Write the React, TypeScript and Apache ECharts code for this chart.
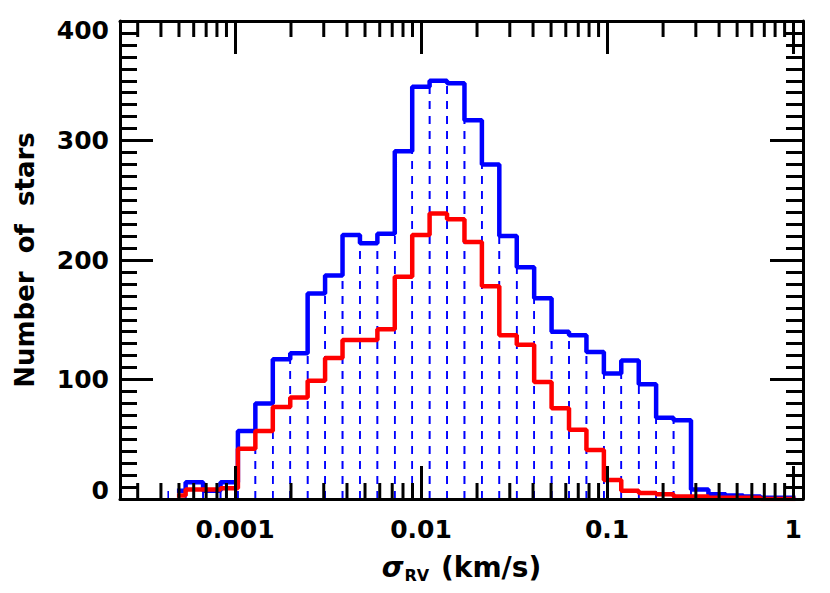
import React, { useEffect, useRef } from "react";
import * as echarts from "echarts";

// Histogram bin edges (sigma_RV, km/s), logarithmic bins
const binEdges = [
  0.0004377, 0.000543, 0.0006739, 0.0008362, 0.001037, 0.001287, 0.001597,
  0.001982, 0.002458, 0.00305, 0.003785, 0.004696, 0.005827, 0.007227,
  0.008967, 0.01112, 0.0138, 0.01712, 0.02124, 0.02635, 0.0327, 0.04056,
  0.05032, 0.06243, 0.07746, 0.09612, 0.1192, 0.148, 0.1835, 0.2277, 0.2825,
  0.3505, 0.4349, 0.5395, 0.6694, 0.8306, 1.03,
];

// Number of stars per bin: full sample (blue) and subsample (red)
const allStars = [
  7, 14, 7, 14, 57, 80, 117, 122, 172, 187, 221, 214, 222, 291, 345, 350, 348,
  317, 280, 220, 194, 168, 140, 137, 123, 105, 116, 96, 68, 66, 8, 4, 3, 2, 1, 1,
];
const subSample = [
  3, 8, 8, 9, 42, 57, 77, 85, 99, 118, 133, 133, 142, 186, 221, 239, 234, 215,
  178, 137, 129, 98, 76, 58, 41, 16, 7, 5, 4, 2, 2, 1, 1, 1, 0, 0,
];

// Axis definitions
const xMin = 0.000241;
const xMax = 1.13;
const yMin = 0;
const yMax = 400;
const yInterval = 100;
const xMinorTicks = [
  0.0003, 0.0004, 0.0005, 0.0006, 0.0007, 0.0008, 0.0009,
  0.002, 0.003, 0.004, 0.005, 0.006, 0.007, 0.008, 0.009,
  0.02, 0.03, 0.04, 0.05, 0.06, 0.07, 0.08, 0.09,
  0.2, 0.3, 0.4, 0.5, 0.6, 0.7, 0.8, 0.9,
];

const FONT = "DejaVu Sans";

function stepPoints(values: number[]): number[][] {
  const pts: number[][] = [];
  pts.push([Math.sqrt(binEdges[0] * binEdges[1]), values[0]]);
  for (let i = 0; i < values.length; i++) {
    if (i > 0) pts.push([binEdges[i], values[i]]);
    pts.push([binEdges[i + 1], values[i]]);
  }
  return pts;
}

export default function App() {
  const ref = useRef<HTMLDivElement>(null);

  useEffect(() => {
    if (!ref.current) return;
    const chart = echarts.init(ref.current, undefined, { renderer: "svg" });

    const axisLineStyle = { color: "#000", width: 3 };
    const tickStyle = { color: "#000", width: 3 };

    const xBase = {
      type: "log" as const,
      logBase: 10,
      min: xMin,
      max: xMax,
      z: 10,
      axisLine: { show: true, onZero: false, lineStyle: axisLineStyle },
      axisTick: { show: true, inside: true, length: 33, lineStyle: tickStyle },
      splitLine: { show: false },
      minorTick: { show: false },
      minorSplitLine: { show: false },
    };

    const yBase = {
      type: "value" as const,
      min: yMin,
      max: yMax,
      interval: yInterval,
      z: 10,
      axisLine: { show: true, onZero: false, lineStyle: axisLineStyle },
      axisTick: { show: true, inside: true, length: 33, lineStyle: tickStyle },
      minorTick: { show: true, splitNumber: 10, length: 17, lineStyle: tickStyle },
      splitLine: { show: false },
      minorSplitLine: { show: false },
    };

    chart.setOption({
      animation: false,
      backgroundColor: "#fff",
      grid: {
        left: 120,
        right: 27,
        top: 21,
        bottom: 94,
        containLabel: false,
        outerBoundsMode: "none",
      },
      xAxis: [
        {
          ...xBase,
          position: "bottom",
          axisLabel: {
            show: true,
            showMinLabel: false,
            showMaxLabel: false,
            margin: 18,
            fontSize: 25,
            fontWeight: "bold",
            fontFamily: FONT,
            color: "#000",
            formatter: (v: number) => String(Number(v.toPrecision(3))),
          },
          name: "{s|σ}{sub|RV} (km/s)",
          nameLocation: "middle",
          nameGap: 53,
          nameTextStyle: {
            fontSize: 28,
            fontFamily: FONT,
            fontWeight: "bold",
            color: "#000",
            rich: {
              s: {
                fontSize: 28,
                fontFamily: FONT,
                fontWeight: "bold",
                fontStyle: "italic",
                color: "#000",
              },
              sub: {
                fontSize: 16,
                fontFamily: FONT,
                fontWeight: "bold",
                color: "#000",
                padding: [15, 2, 0, 1],
              },
            },
          },
        },
        {
          ...xBase,
          position: "top",
          axisLabel: { show: false },
        },
      ],
      yAxis: [
        {
          ...yBase,
          position: "left",
          axisLabel: {
            show: true,
            margin: 11,
            fontSize: 25,
            fontWeight: "bold",
            fontFamily: FONT,
            color: "#000",
            lineHeight: 18,
            verticalAlignMinLabel: "bottom",
            verticalAlignMaxLabel: "top",
          },
          name: "Number  of  stars",
          nameLocation: "middle",
          nameGap: 82,
          nameTextStyle: {
            fontSize: 26,
            fontFamily: FONT,
            fontWeight: "bold",
            color: "#000",
          },
        },
        {
          ...yBase,
          position: "right",
          axisLabel: { show: false },
        },
      ],
      series: [
        {
          type: "custom",
          name: "binLines",
          xAxisIndex: 0,
          yAxisIndex: 0,
          z: 1,
          silent: true,
          encode: { x: [0, 1], y: 2 },
          data: allStars.map((v, i) => [binEdges[i], binEdges[i + 1], v]),
          renderItem: (params: any, api: any) => {
            const l = api.value(0);
            const r = api.value(1);
            const v = api.value(2);
            const a0 = api.coord([l, 0]);
            const a1 = api.coord([l, v]);
            const b0 = api.coord([r, 0]);
            const b1 = api.coord([r, v]);
            const style = { stroke: "#0000ff", lineWidth: 1.6, lineDash: [8, 7], fill: null };
            return {
              type: "group",
              children: [
                { type: "line", shape: { x1: a0[0], y1: a0[1], x2: a1[0], y2: a1[1] }, style },
                { type: "line", shape: { x1: b0[0], y1: b0[1], x2: b1[0], y2: b1[1] }, style },
              ],
            };
          },
        },
        {
          type: "line",
          name: "all",
          xAxisIndex: 0,
          yAxisIndex: 0,
          z: 2,
          showSymbol: false,
          symbol: "none",
          data: stepPoints(allStars),
          lineStyle: { color: "#0000ff", width: 4.5 },
        },
        {
          type: "line",
          name: "sub",
          xAxisIndex: 0,
          yAxisIndex: 0,
          z: 3,
          showSymbol: false,
          symbol: "none",
          data: stepPoints(subSample),
          lineStyle: { color: "#ff0000", width: 4.5 },
        },
        {
          type: "custom",
          name: "minorTicks",
          xAxisIndex: 0,
          yAxisIndex: 0,
          z: 20,
          silent: true,
          clip: false,
          encode: { x: 0, y: 1 },
          data: xMinorTicks.map((v) => [v, yMin]),
          renderItem: (params: any, api: any) => {
            const v = api.value(0);
            const b = api.coord([v, yMin]);
            const t = api.coord([v, yMax]);
            const style = { stroke: "#000", lineWidth: 3, fill: null };
            return {
              type: "group",
              children: [
                { type: "line", shape: { x1: b[0], y1: b[1], x2: b[0], y2: b[1] - 16 }, style },
                { type: "line", shape: { x1: t[0], y1: t[1], x2: t[0], y2: t[1] + 16 }, style },
              ],
            };
          },
        },
      ],
    });

    return () => chart.dispose();
  }, []);

  return (
    <div
      ref={ref}
      style={{ position: "fixed", left: 0, top: 0, width: 830, height: 593 }}
    />
  );
}
